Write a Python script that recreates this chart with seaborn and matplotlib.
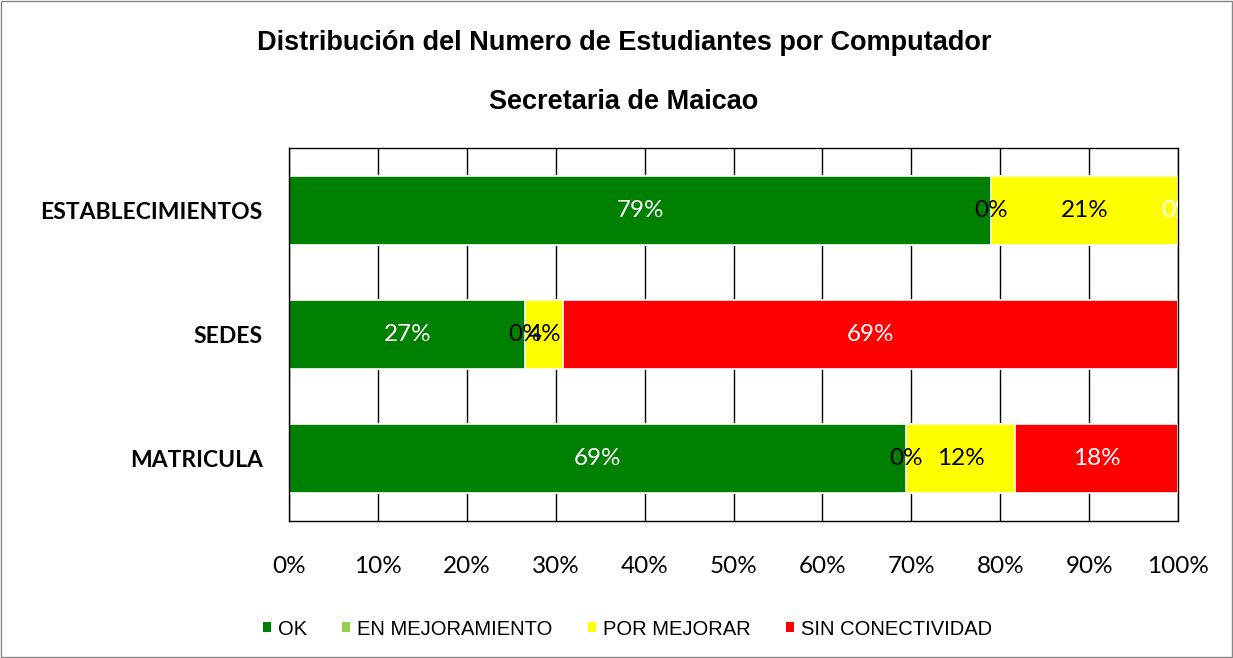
import matplotlib

matplotlib.use("Agg")

import matplotlib.pyplot as plt
import numpy as np
import pandas as pd
import seaborn as sns
from matplotlib.patches import Patch, Rectangle
from matplotlib.ticker import FuncFormatter, MultipleLocator

categories = ["ESTABLECIMIENTOS", "SEDES", "MATRICULA"]
series_names = ["OK", "EN MEJORAMIENTO", "POR MEJORAR", "SIN CONECTIVIDAD"]
ok_values = [79.0, 26.6, 69.4]
mejoramiento_values = [0.0, 0.0, 0.0]
por_mejorar_values = [21.0, 4.2, 12.3]
sin_conectividad_values = [0.0, 69.2, 18.3]

colors = ["#008000", "#92D050", "#FFFF00", "#FF0000"]
text_colors = ["white", "black", "black", "white"]

sns.set_theme(style="white")
plt.rcParams["font.family"] = ["Lato", "DejaVu Sans"]
plt.rcParams["text.color"] = "black"
plt.rcParams["xtick.color"] = "black"
plt.rcParams["ytick.color"] = "black"

values = pd.DataFrame(
    {
        "categoria": categories,
        "OK": ok_values,
        "EN MEJORAMIENTO": mejoramiento_values,
        "POR MEJORAR": por_mejorar_values,
        "SIN CONECTIVIDAD": sin_conectividad_values,
    }
)
cumulative = values[series_names].cumsum(axis=1)
cumulative["categoria"] = values["categoria"]

fig = plt.figure(figsize=(12.33, 6.58), dpi=100)
ax = fig.add_axes([0.2344, 0.208, 0.721, 0.567])

# stacked bars: draw cumulative totals from the last series to the first
for name, color in reversed(list(zip(series_names, colors))):
    sns.barplot(
        data=cumulative,
        x=name,
        y="categoria",
        order=categories,
        color=color,
        width=0.555,
        edgecolor="white",
        linewidth=1.2,
        saturation=1,
        ax=ax,
    )

# segment labels
for row, category in enumerate(categories):
    start = 0.0
    for name, tcolor in zip(series_names, text_colors):
        value = values.loc[row, name]
        ax.text(
            start + value / 2,
            row,
            f"{value:.0f}%",
            ha="center",
            va="center",
            color=tcolor,
            fontsize=17.5,
            clip_on=True,
        )
        start += value

ax.set_xlim(0, 100)
ax.set_ylim(2.5, -0.5)
ax.xaxis.set_major_locator(MultipleLocator(10))
ax.xaxis.set_major_formatter(FuncFormatter(lambda v, _: f"{v:.0f}%"))
ax.grid(axis="x", color="black", linewidth=1)
ax.set_axisbelow(True)
ax.set_xlabel("")
ax.set_ylabel("")
ax.tick_params(axis="x", length=0, pad=25, labelsize=17.5)
ax.tick_params(axis="y", length=0, pad=19, labelsize=16.5)
for label in ax.get_yticklabels():
    label.set_fontweight("bold")
for spine in ax.spines.values():
    spine.set_visible(True)
    spine.set_color("black")
    spine.set_linewidth(1)

fig.text(0.506, 0.935, "Distribución del Numero de Estudiantes por Computador",
         ha="center", va="center", fontsize=19.5, fontweight="bold",
         family=["Liberation Sans", "DejaVu Sans"])
fig.text(0.506, 0.845, "Secretaria de Maicao",
         ha="center", va="center", fontsize=19.5, fontweight="bold",
         family=["Liberation Sans", "DejaVu Sans"])

handles = [Patch(facecolor=c, edgecolor="none") for c in colors]
fig.legend(
    handles,
    series_names,
    loc="center",
    bbox_to_anchor=(0.509, 0.044),
    ncol=4,
    frameon=False,
    handlelength=0.4,
    handleheight=0.4,
    handletextpad=0.35,
    columnspacing=1.75,
    prop={"family": ["Liberation Sans Narrow", "Liberation Sans"], "size": 14.5},
)

fig.patches.append(
    Rectangle((0.001, 0.001), 0.998, 0.997, transform=fig.transFigure,
              fill=False, edgecolor="#888888", linewidth=1)
)

fig.savefig("out.png", dpi=100)
